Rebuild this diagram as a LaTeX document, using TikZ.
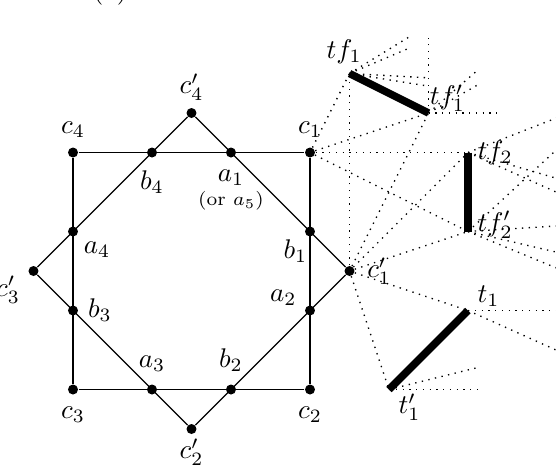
\documentclass[tikz,border=0pt]{standalone}
\usepackage{amsmath,amssymb}
\usepackage{tikz}
\usetikzlibrary{positioning}

\begin{document}
\begin{tikzpicture}[
    x=0.514cm, y=0.514cm,
    pt/.style={
        circle, fill=black, inner sep=0pt, minimum size=3.7pt
    },
    edge/.style={
        line width=0.5pt, color=black
    },
    sight/.style={
        dotted, line width=0.5pt
    },
    wall/.style={
        line width=2.8pt, color=black
    }
]

    % frame
    \useasboundingbox (-4.848,-4.937) rectangle (9.228,6.861);
    \clip (-4.848,-4.937) rectangle (9.228,6.861);
    \node[anchor=base] (cap) at (-2.06,6.9) {(a)};

    % Square corners and star tips
    \node[pt] (c1) at (3,3) {};
    \node[pt] (c2) at (3,-3) {};
    \node[pt] (c3) at (-3,-3) {};
    \node[pt] (c4) at (-3,3) {};
    \node[pt] (c1p) at (4,0) {};
    \node[pt] (c2p) at (0,-4) {};
    \node[pt] (c3p) at (-4,0) {};
    \node[pt] (c4p) at (0,4) {};

    % Crossings
    \node[pt] (a1) at (1,3) {};
    \node[pt] (b1) at (3,1) {};
    \node[pt] (a2) at (3,-1) {};
    \node[pt] (b2) at (1,-3) {};
    \node[pt] (a3) at (-1,-3) {};
    \node[pt] (b3) at (-3,-1) {};
    \node[pt] (a4) at (-3,1) {};
    \node[pt] (b4) at (-1,3) {};

    % Segments
    \coordinate (tf1) at (4,5);
    \coordinate (tf1p) at (6,4);
    \coordinate (tf2) at (7,3);
    \coordinate (tf2p) at (7,1);
    \coordinate (t1) at (7,-1);
    \coordinate (t1p) at (5,-3);

    % Polygons
    \draw[edge] (c4) -- (c1) -- (c2) -- (c3) -- (c4);
    \draw[edge] (c4p) -- (c1p) -- (c2p) -- (c3p) -- (c4p);

    % Lines of sight
    \foreach \p in {tf1, tf1p, tf2, tf2p} {
        \draw[sight] (c1) -- (\p);
    }
    \foreach \p in {tf1, tf1p, tf2, tf2p, t1, t1p} {
        \draw[sight] (c1p) -- (\p);
    }

    % Fans behind the segments
    \coordinate (f1) at (5.58,5.97);
    \coordinate (f2) at (5.53,5.65);
    \coordinate (f3) at (6,4.89);
    \coordinate (f4) at (6,4.68);
    \coordinate (g1) at (6,5.9);
    \coordinate (g2) at (7.86,4);
    \coordinate (g3) at (7.25,5.09);
    \coordinate (g4) at (7.33,4.76);
    \coordinate (h1) at (9.23,3.87);
    \coordinate (h2) at (9.23,2.35);
    \coordinate (h3) at (9.23,2.0);
    \coordinate (k1) at (9.23,3.06);
    \coordinate (k2) at (9.23,1.14);
    \coordinate (k3) at (9.23,0.48);
    \coordinate (k4) at (9.23,0.08);
    \coordinate (m1) at (9.23,-1);
    \coordinate (m2) at (9.23,-2);
    \coordinate (n1) at (7.38,-3);
    \coordinate (n2) at (7.3,-2.43);
    \foreach \e in {f1, f2, f3, f4} {
        \draw[sight] (tf1) -- (\e);
    }
    \foreach \e in {g1, g2, g3, g4} {
        \draw[sight] (tf1p) -- (\e);
    }
    \foreach \e in {h1, h2, h3} {
        \draw[sight] (tf2) -- (\e);
    }
    \foreach \e in {k1, k2, k3, k4} {
        \draw[sight] (tf2p) -- (\e);
    }
    \foreach \e in {m1, m2} {
        \draw[sight] (t1) -- (\e);
    }
    \foreach \e in {n1, n2} {
        \draw[sight] (t1p) -- (\e);
    }

    % Walls
    \draw[wall] (tf1) -- (tf1p);
    \draw[wall] (tf2) -- (tf2p);
    \draw[wall] (t1) -- (t1p);

    % Labels
    \node[above=0pt of c4] (lc4) {$c_4$};
    \node[above=0pt of c1] (lc1) {$c_1$};
    \node[below=1pt of c3] (lc3) {$c_3$};
    \node[below=1pt of c2] (lc2) {$c_2$};
    \node[above=-1pt of c4p] (lc4p) {$c'_4$};
    \node[below=-2pt of c2p] (lc2p) {$c'_2$};
    \node[below left=-3pt and 0pt of c3p] (lc3p) {$c'_3$};
    \node[right=1pt of c1p] (lc1p) {$c'_1$};
    \node[below=1pt of a1] (la1) {$a_1$};
    \node[below=-5pt of la1, font=\scriptsize] (la5) {(or $a_5$)};
    \node[below=1pt of b4] (lb4) {$b_4$};
    \node[below right=-1pt and -1pt of a4] (la4) {$a_4$};
    \node[right=0pt of b3] (lb3) {$b_3$};
    \node[above=1pt of a3] (la3) {$a_3$};
    \node[above=1pt of b2] (lb2) {$b_2$};
    \node[above left=-3pt and 0pt of a2] (la2) {$a_2$};
    \node[below left=-2pt and -4pt of b1] (lb1) {$b_1$};
    \node[anchor=south, xshift=-2pt] (ltf1) at (tf1) {$tf_1$};
    \node[above right=-3pt and -3pt of tf1p] (ltf1p) {$tf'_1$};
    \node[right=0pt of tf2] (ltf2) {$tf_2$};
    \node[above right=-6pt and 0pt of tf2p] (ltf2p) {$tf'_2$};
    \node[above right=-2pt and 0pt of t1] (lt1) {$t_1$};
    \node[below right=-2pt and 0pt of t1p] (lt1p) {$t'_1$};

\end{tikzpicture}
\end{document}
